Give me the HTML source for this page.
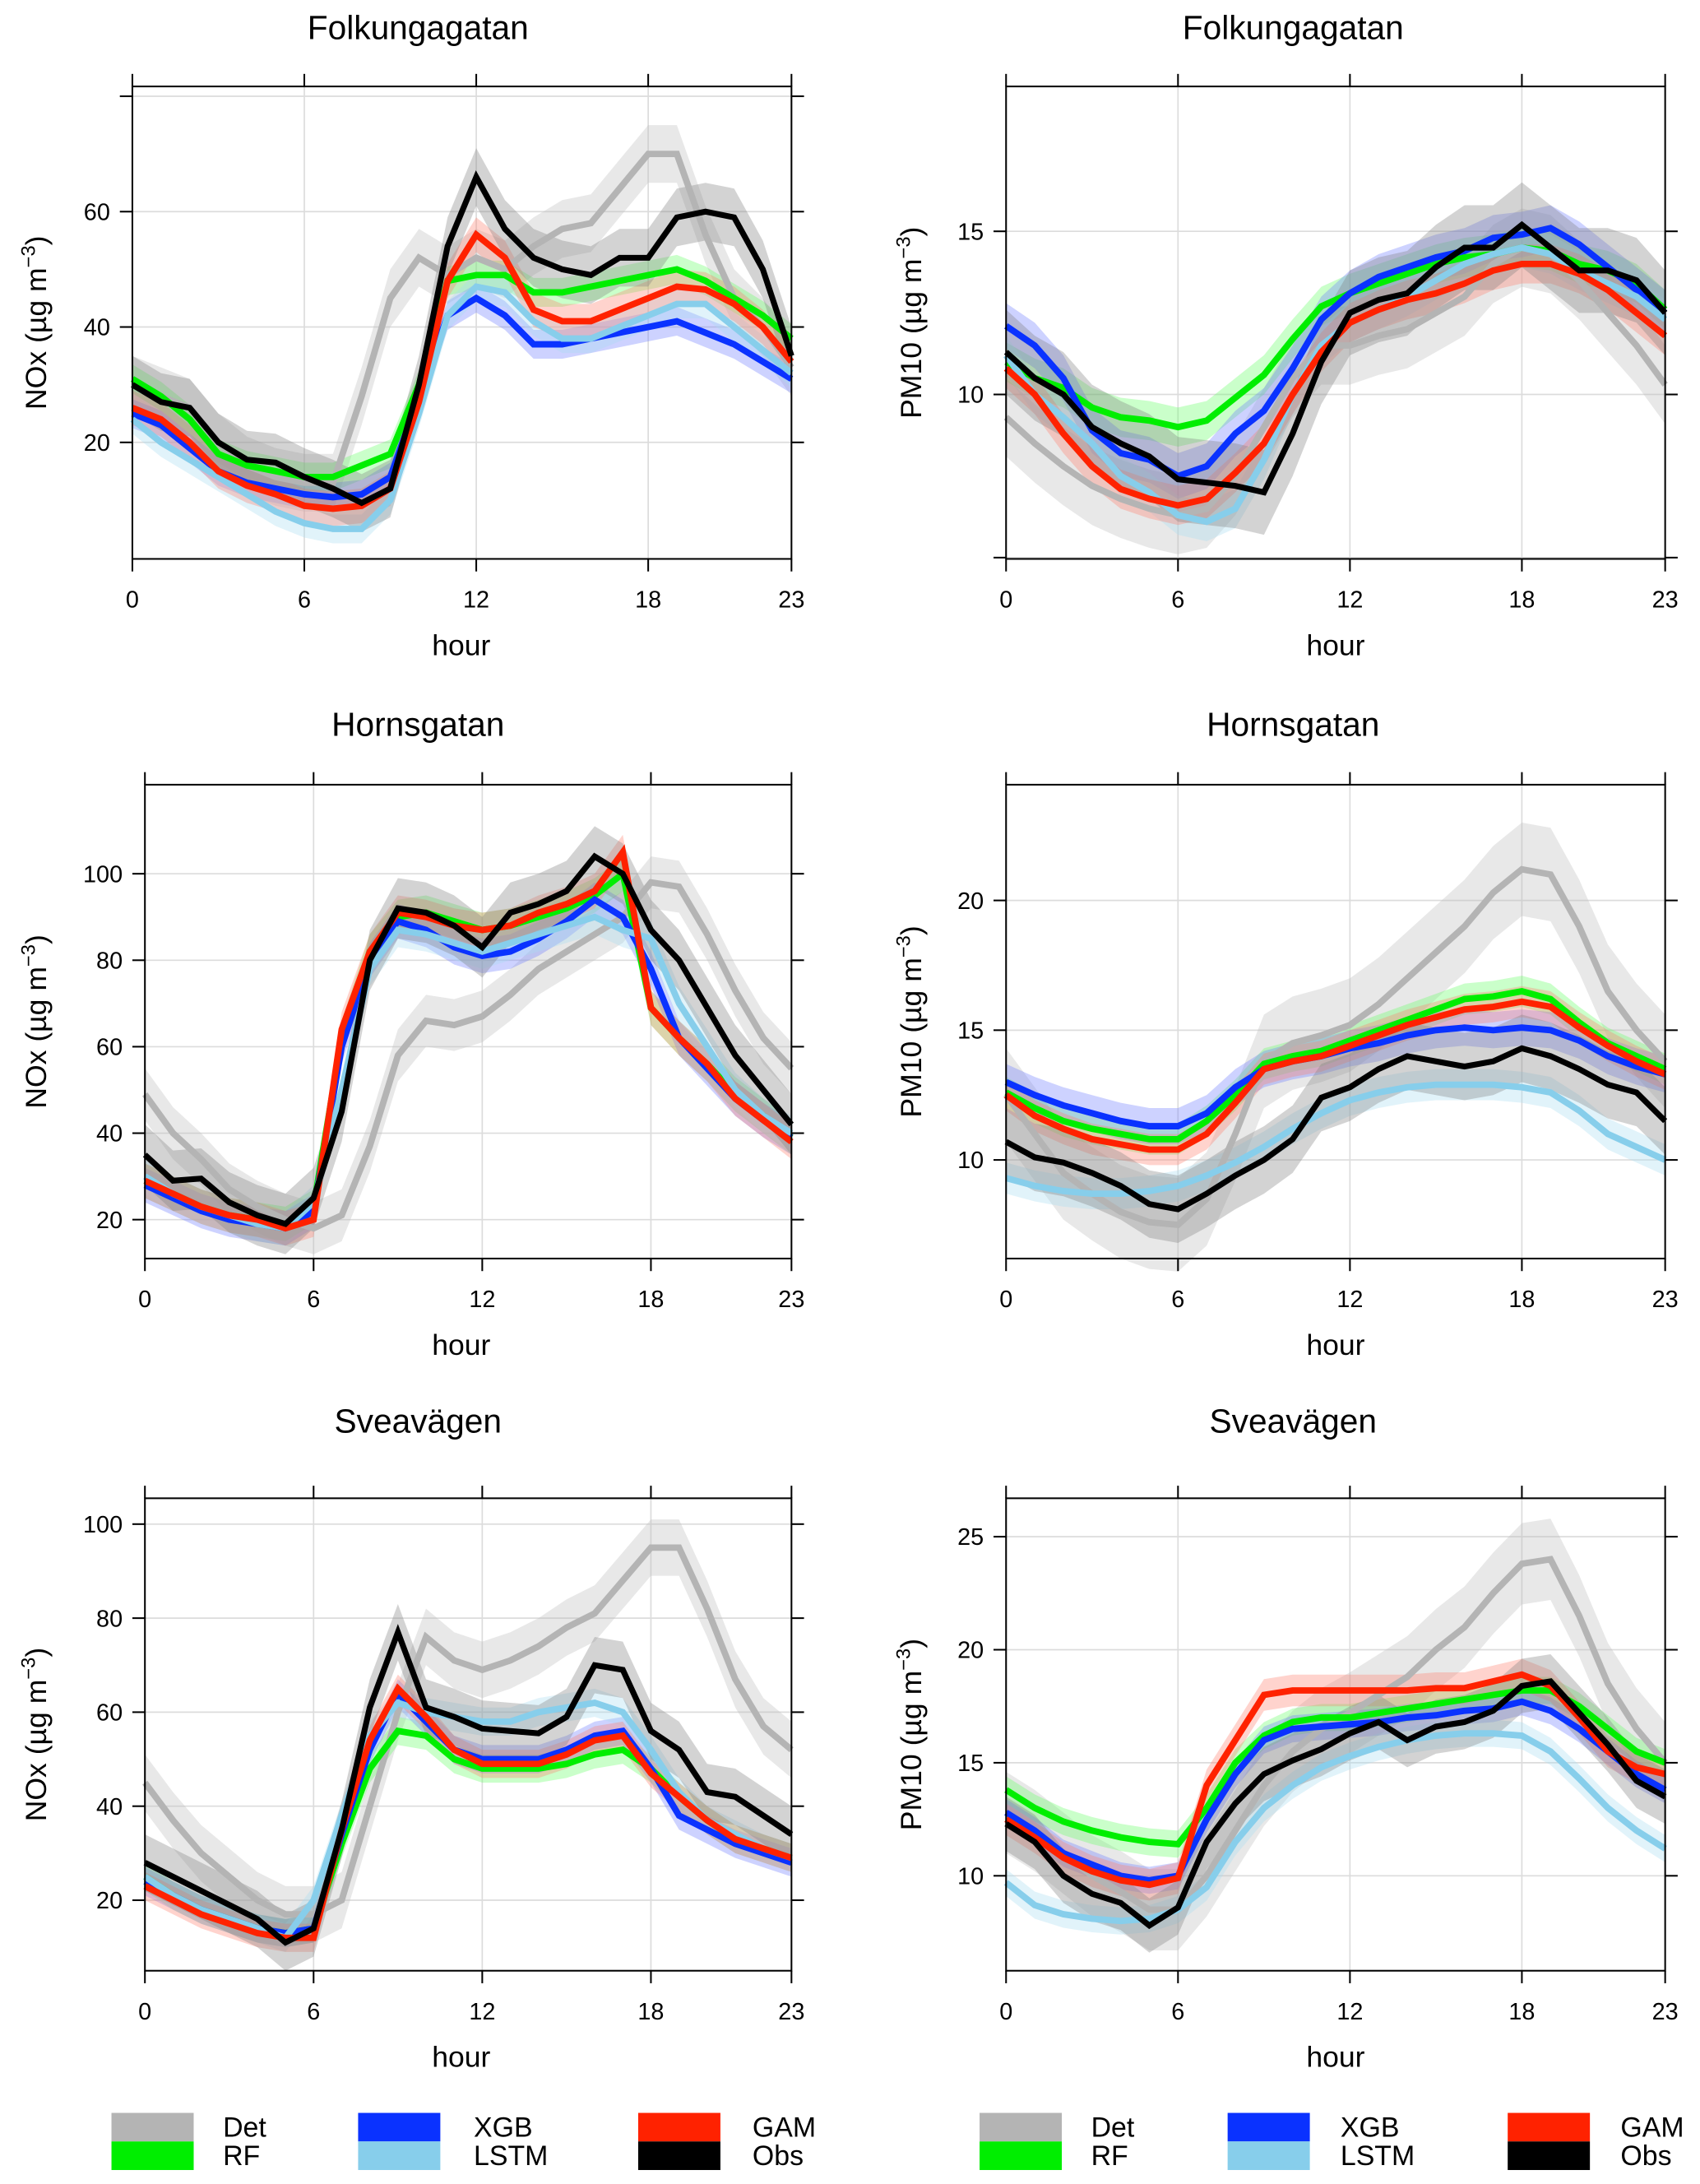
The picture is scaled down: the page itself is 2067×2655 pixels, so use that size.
<!DOCTYPE html>
<html><head><meta charset="utf-8"><style>
html,body{margin:0;padding:0;background:#fff}
svg{display:block;font-family:"Liberation Sans",sans-serif}
</style></head><body>
<svg id="chart" width="2067" height="2655" viewBox="0 0 1220 1567" xmlns="http://www.w3.org/2000/svg"></svg>
<script>
const hours = [0,1,2,3,4,5,6,7,8,9,10,11,12,13,14,15,16,17,18,19,20,21,22,23];
const seriesNames = ["Det","RF","XGB","LSTM","GAM","Obs"];
// Folkungagatan NOx
const p1Det=[30,28,26,20,16,14,13,13,28,45,52,49,52,50,54,57,58,64,70,70,56,45,40,33];
const p1RF=[31,28,24,18,16,15,14,14,16,18,30,48,49,49,46,46,47,48,49,50,48,45,42,38];
const p1XGB=[25,23,19,15,13,12,11,10.5,11,14,28,42,45,42,37,37,38,39,40,41,39,37,34,31];
const p1LSTM=[24,20,17,14,11,8,6,5,5,10,25,42,47,46,41,38,38,40,42,44,44,40,36,32];
const p1GAM=[26,24,20,15,12.5,11,9,8.5,9,12,27,48,56,52,43,41,41,43,45,47,46.5,44,40,34];
const p1Obs=[30,27,26,20,17,16.5,14,12,9.5,12,30,54,66,57,52,50,49,52,52,59,60,59,50,35];
// Folkungagatan PM10
const p2Det=[9.3,8.5,7.8,7.2,6.8,6.5,6.3,6.5,7.5,9,10.5,11.5,11.5,11.8,12,12.5,13,14,14.5,14.3,13.5,12.5,11.5,10.3];
const p2RF=[11,10.5,10.2,9.6,9.3,9.2,9,9.2,9.9,10.6,11.7,12.7,13.1,13.4,13.7,14,14.2,14.3,14.5,14.4,14,13.8,13.4,12.6];
const p2XGB=[12.1,11.5,10.5,8.9,8.2,8,7.5,7.8,8.8,9.5,10.8,12.3,13.1,13.6,13.9,14.2,14.4,14.8,14.9,15.1,14.6,13.9,13.2,12.5];
const p2LSTM=[11.2,10,9.3,8.5,7.5,7,6.3,6.1,6.5,8,10,11.5,12.2,12.6,13,13.5,14,14.3,14.5,14.3,13.8,13.4,13,12.3];
const p2GAM=[10.8,10,8.8,7.8,7.1,6.8,6.6,6.8,7.6,8.5,10,11.3,12.2,12.6,12.9,13.1,13.4,13.8,14,14,13.7,13.2,12.5,11.8];
const p2Obs=[11.3,10.5,10,9,8.5,8.1,7.4,7.3,7.2,7,8.8,11,12.5,12.9,13.1,13.9,14.5,14.5,15.2,14.5,13.8,13.8,13.5,12.5];
// Hornsgatan NOx
const p3Det=[49,40,34,27,23,20,18,21,37,58,66,65,67,72,78,82,86,90,98,97,86,73,62,55];
const p3RF=[29,26,23,21,20,19,23,62,82,90,91,89,87,88,90,92,95,100,69,62,56,49,44,39];
const p3XGB=[28,25,22,20,19,18,22,60,80,89,87,83,81,82,85,89,94,90,78,62,55,48,43,39];
const p3LSTM=[30,26,23,21,19,18,24,50,78,87,86,84,82,84,86,88,90,87,85,70,60,50,44,40];
const p3GAM=[29,26,23,21,20,18,20,64,82,91,90,88,87,88,91,93,96,105,69,62,56,48,43,38];
const p3Obs=[35,29,29.5,24,21,19,25,45,80,92,91,88,83,91,93,96,104,100,87,80,69,58,50,42];
// Hornsgatan PM10
const p4Det=[12.5,11,9.5,8.7,8,7.6,7.5,8.5,11,13.8,14.5,14.8,15.2,16,17,18,19,20.3,21.2,21,19,16.5,15,13.8];
const p4RF=[12.6,12,11.5,11.2,11,10.8,10.8,11.5,12.5,13.7,14,14.2,14.6,15,15.4,15.8,16.2,16.3,16.5,16.2,15.3,14.5,14,13.5];
const p4XGB=[13,12.5,12.1,11.8,11.5,11.3,11.3,11.8,12.8,13.5,13.8,14,14.3,14.5,14.8,15,15.1,15,15.1,15,14.6,14,13.6,13.3];
const p4LSTM=[9.3,9,8.8,8.7,8.7,8.8,9,9.4,9.9,10.5,11.2,11.8,12.3,12.6,12.8,12.9,12.9,12.9,12.8,12.6,11.9,11,10.5,10];
const p4GAM=[12.5,11.7,11.2,10.8,10.6,10.4,10.4,11,12.2,13.5,13.8,14,14.4,14.8,15.2,15.5,15.8,15.9,16.1,15.9,15.1,14.4,13.8,13.3];
const p4Obs=[10.7,10.1,9.9,9.5,9,8.3,8.1,8.7,9.4,10,10.8,12.4,12.8,13.5,14,13.8,13.6,13.8,14.3,14,13.5,12.9,12.6,11.5];
// Sveavägen NOx
const p5Det=[45,37,30,25,20,17,17,20,40,60,76,71,69,71,74,78,81,88,95,95,82,67,57,52];
const p5RF=[25,21,18,16,14,13,14,32,48,56,55,50,48,48,48,49,51,52,48,42,37,33,31,29];
const p5XGB=[24,21,18,16,14,13,14,34,52,64,58,52,50,50,50,52,55,56,48,38,35,32,30,28];
const p5LSTM=[25,21,18,16,14,12,20,38,55,62,60,59,58,58,60,61,62,60,52,43,37,34,31,29];
const p5GAM=[23,20,17,15,13,12,12,35,54,65,59,52,49,49,49,51,54,55,47,42,37,33,31,29];
const p5Obs=[28,25,22,19,16,11,14,35,61,77,61,59,56.5,56,55.5,59,70,69,56,52,43,42,38,34];
// Sveavägen PM10
const p6Det=[12.8,12,11,10,9.3,8.5,8.5,10,12,14,15.5,16.5,17.2,18,18.8,20,21,22.5,23.8,24,21.5,18.5,16.5,15];
const p6RF=[13.8,13,12.4,12,11.7,11.5,11.4,13,15,16.2,16.8,17,17,17.2,17.4,17.6,17.8,18,18.2,18.2,17.5,16.5,15.5,15];
const p6XGB=[12.8,12,11,10.5,10,9.8,10,12.5,14.5,16,16.5,16.6,16.7,16.8,17,17.1,17.3,17.4,17.7,17.3,16.5,15.5,14.5,13.8];
const p6LSTM=[9.7,8.7,8.3,8.1,8,8.1,8.5,9.5,11.5,13,14,14.8,15.3,15.7,16,16.2,16.3,16.3,16.2,15.5,14.3,13,12,11.2];
const p6GAM=[12.5,11.7,10.8,10.2,9.8,9.6,9.9,14,16,18,18.2,18.2,18.2,18.2,18.2,18.3,18.3,18.6,18.9,18.4,17,15.5,14.8,14.5];
const p6Obs=[12.3,11.5,10,9.2,8.8,7.8,8.6,11.5,13.2,14.5,15.1,15.6,16.3,16.8,16,16.6,16.8,17.3,18.4,18.6,17.2,15.8,14.2,13.5];
// band half-widths per series (Det,RF,XGB,LSTM,GAM,Obs)
const p1Band=[5,2.5,2.5,2.5,3,5];
const p2Band=[1.2,0.6,0.7,0.6,0.6,1.3];
const p3Band=[6,4,4,4,4,7];
const p4Band=[1.8,0.6,0.7,0.6,0.6,1.3];
const p5Band=[6,3,3,3,3,6];
const p6Band=[1.8,0.6,0.6,0.6,0.7,1.2];
const yTicksNOx1=[20,40,60,80];
const yTicksPM1=[5,10,15];
const yTicksNOx2=[20,40,60,80,100];
const yTicksPM2=[10,15,20];
const yTicksNOx3=[20,40,60,80,100];
const yTicksPM3=[10,15,20,25];
const xTicks=[0,6,12,18,23];
const titles=["Folkungagatan","Folkungagatan","Hornsgatan","Hornsgatan","Sveavägen","Sveavägen"];

const colors=["#b4b4b4","#00ee00","#0a32ff","#87ceeb","#ff2200","#000000"];
const bandCols=["#bdbdbd","#66ff66","#6f7dff","#a8dcf0","#ff8070","#808080"];
const NS="http://www.w3.org/2000/svg";
const svg=document.getElementById("chart");
function el(tag,attrs,parent){const e=document.createElementNS(NS,tag);for(const k in attrs)e.setAttribute(k,attrs[k]);(parent||svg).appendChild(e);return e;}

const panels=[
 {data:[p1Det,p1RF,p1XGB,p1LSTM,p1GAM,p1Obs],band:p1Band,x0:95,x1:568,top:62,bot:401,vmin:-0.2,vmax:81.7,ticks:yTicksNOx1,label:"NOx",titleX:300,titleY:20,labels:[20,40,60]},
 {data:[p2Det,p2RF,p2XGB,p2LSTM,p2GAM,p2Obs],band:p2Band,x0:722,x1:1195,top:62,bot:401,vmin:4.96,vmax:19.44,ticks:yTicksPM1,label:"PM10",titleX:928,titleY:20,labels:[10,15]},
 {data:[p3Det,p3RF,p3XGB,p3LSTM,p3GAM,p3Obs],band:p3Band,x0:104,x1:568,top:563,bot:903,vmin:11,vmax:120.6,ticks:yTicksNOx2,label:"NOx",titleX:300,titleY:520,labels:[20,40,60,80,100]},
 {data:[p4Det,p4RF,p4XGB,p4LSTM,p4GAM,p4Obs],band:p4Band,x0:722,x1:1195,top:563,bot:903,vmin:6.2,vmax:24.46,ticks:yTicksPM2,label:"PM10",titleX:928,titleY:520,labels:[10,15,20]},
 {data:[p5Det,p5RF,p5XGB,p5LSTM,p5GAM,p5Obs],band:p5Band,x0:104,x1:568,top:1075,bot:1414,vmin:5,vmax:105.5,ticks:yTicksNOx3,label:"NOx",titleX:300,titleY:1020,labels:[20,40,60,80,100]},
 {data:[p6Det,p6RF,p6XGB,p6LSTM,p6GAM,p6Obs],band:p6Band,x0:722,x1:1195,top:1075,bot:1414,vmin:5.8,vmax:26.7,ticks:yTicksPM3,label:"PM10",titleX:928,titleY:1020,labels:[10,15,20,25]}
];

panels.forEach((p,pi)=>{
 const xs=h=>p.x0+(h/23)*(p.x1-p.x0);
 const ys=v=>p.bot-(v-p.vmin)/(p.vmax-p.vmin)*(p.bot-p.top);
 const g=el("g",{});
 
 
 const t=el("text",{x:p.titleX,y:p.titleY+8,"text-anchor":"middle","font-size":24,fill:"#000"},g);
 t.textContent=titles[pi];
 
 
 xTicks.forEach(h=>{ if(h>0&&h<23){const l=el("line",{x1:xs(h),x2:xs(h),y1:p.top,y2:p.bot,stroke:"#dcdcdc","stroke-width":1},g);
 
 }});
 p.ticks.forEach(v=>{const l=el("line",{x1:p.x0,x2:p.x1,y1:ys(v),y2:ys(v),stroke:"#dcdcdc","stroke-width":1},g);
 
 });
 p.data.forEach((s,si)=>{
  const up=s.map((v,i)=>xs(hours[i])+","+ys(v+p.band[si]));
  const lo=s.map((v,i)=>xs(hours[i])+","+ys(v-p.band[si])).reverse();
  const b=el("polygon",{points:up.concat(lo).join(" "),fill:bandCols[si],opacity:0.35},g);
  
  
 });
 p.data.forEach((s,si)=>{
  const pts=s.map((v,i)=>xs(hours[i])+","+ys(v)).join(" ");
  const l=el("polyline",{points:pts,fill:"none",stroke:colors[si],"stroke-width":si==5?4.2:4.6,"stroke-linejoin":"miter"},g);
  
  
 });
 const f=el("rect",{x:p.x0,y:p.top,width:p.x1-p.x0,height:p.bot-p.top,fill:"none",stroke:"#000","stroke-width":1.2},g);
 
 
 xTicks.forEach(h=>{
  el("line",{x1:xs(h),x2:xs(h),y1:p.bot,y2:p.bot+9,stroke:"#000","stroke-width":1.2},g);
  el("line",{x1:xs(h),x2:xs(h),y1:p.top,y2:p.top-9,stroke:"#000","stroke-width":1.2},g);
  const tx=el("text",{x:xs(h),y:p.bot+35,"text-anchor":"middle","font-size":17},g);
  tx.textContent=h;
  
  
 });
 p.ticks.forEach(v=>{
  el("line",{x1:p.x0-9,x2:p.x0,y1:ys(v),y2:ys(v),stroke:"#000","stroke-width":1.2},g);
  el("line",{x1:p.x1,x2:p.x1+9,y1:ys(v),y2:ys(v),stroke:"#000","stroke-width":1.2},g);
  if(p.labels.indexOf(v)>=0){
   const ty=el("text",{x:p.x0-16,y:ys(v)+6,"text-anchor":"end","font-size":17},g);
   ty.textContent=v;
   
   
  }
 });
 const hx=el("text",{x:(p.x0+p.x1)/2 + (pi%2==0? (331-(p.x0+p.x1)/2):0),y:p.bot+69,"text-anchor":"middle","font-size":21},g);
 hx.textContent="hour";
 
 
 const ax=pi%2==0?33:661;
 const ay=(p.top+p.bot)/2;
 const yl=el("text",{x:ax,y:ay,"text-anchor":"middle","font-size":21,transform:"rotate(-90 "+ax+" "+ay+")"},g);
 yl.innerHTML=p.label+' (\u00b5g m<tspan dy="-8" font-size="14">\u22123</tspan><tspan dy="8">)</tspan>';
 
 
});

const legendGroups=[{sx:[80,257,458],tx:[160,340,540]},{sx:[703,881,1082],tx:[783,962,1163]}];
const legendPairs=[[0,1],[2,3],[4,5]];
legendGroups.forEach((lg,gi)=>{
 legendPairs.forEach((pair,ci)=>{
  pair.forEach((si,ri)=>{
   const y=1516+ri*20.5;
   const r=el("rect",{x:lg.sx[ci],y:y,width:59,height:20.5,fill:colors[si]});
   
   
   const t=el("text",{x:lg.tx[ci],y:y+17,"font-size":20});
   t.textContent=seriesNames[si];
   
   
  });
 });
});
</script>
</body></html>
